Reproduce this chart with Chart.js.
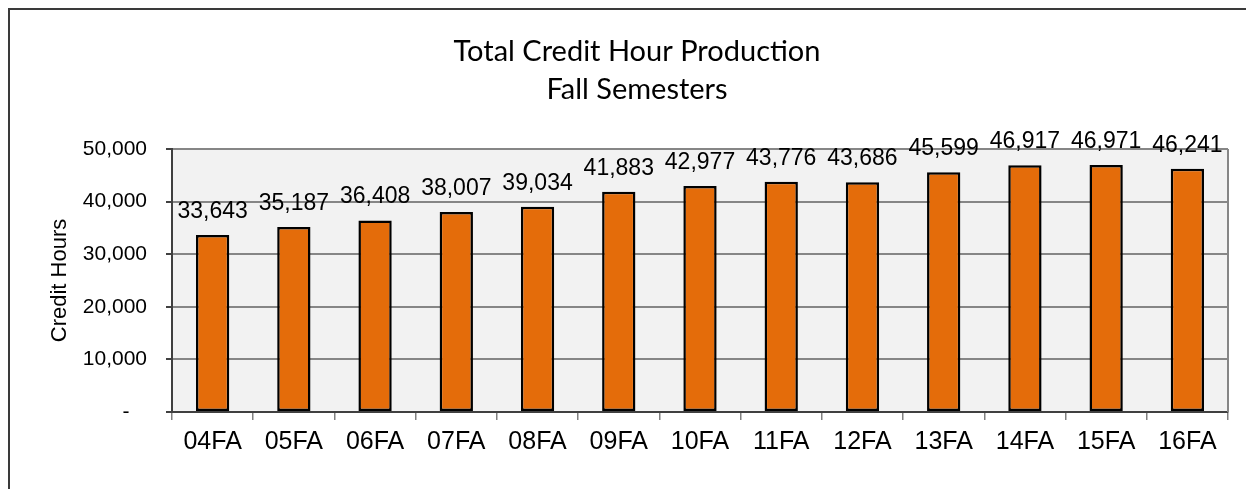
<!DOCTYPE html>
<html>
<head>
<meta charset="utf-8">
<script src="https://cdn.jsdelivr.net/npm/chart.js@4.4.0/dist/chart.umd.min.js"></script>
<style>
    html, body { margin: 0; padding: 0; background: #fff; overflow: hidden; }
    #wrap { position: relative; width: 1246px; height: 489px; }
    #frame { position: absolute; left: 8px; top: 8px; width: 1300px; height: 600px;
             border-left: 2px solid #3a3a3a; border-top: 2px solid #3a3a3a; }
    #chart { position: absolute; left: 0; top: 0; }
</style>
</head>
<body>
<div id="wrap">
    <div id="frame"></div>
    <canvas id="chart" width="1246" height="489"></canvas>
</div>
<script>
const semesters = ['04FA', '05FA', '06FA', '07FA', '08FA', '09FA', '10FA', '11FA', '12FA', '13FA', '14FA', '15FA', '16FA'];
const creditHours = [33643, 35187, 36408, 38007, 39034, 41883, 42977, 43776, 43686, 45599, 46917, 46971, 46241];
const yTicks = [0, 10000, 20000, 30000, 40000, 50000];
const titleLines = ['Total Credit Hour Production', 'Fall Semesters'];

// gray plot background, right border and the two-line title
const plotArea = {
    id: 'plotArea',
    beforeDraw(chart) {
        const { ctx, chartArea: a } = chart;
        ctx.save();
        ctx.fillStyle = '#f2f2f2';
        ctx.fillRect(a.left, a.top, a.right - a.left, a.bottom - a.top);
        ctx.restore();
    },
    afterDraw(chart) {
        const { ctx, chartArea: a } = chart;
        ctx.save();
        ctx.strokeStyle = '#868686';
        ctx.lineWidth = 2;
        ctx.beginPath();
        ctx.moveTo(a.right, a.top);
        ctx.lineTo(a.right, a.bottom);
        ctx.stroke();

        ctx.font = '29px Lato, "Open Sans", sans-serif';
        ctx.fillStyle = '#000';
        ctx.textAlign = 'center';
        ctx.textBaseline = 'middle';
        titleLines.forEach((line, i) => ctx.fillText(line, 637, 52 + i * 38));
        ctx.restore();
    }
};

// value labels above each bar
const barValues = {
    id: 'barValues',
    afterDatasetsDraw(chart) {
        const ctx = chart.ctx;
        const meta = chart.getDatasetMeta(0);
        ctx.save();
        ctx.font = '23px "Liberation Sans", Arial, sans-serif';
        ctx.fillStyle = '#000';
        ctx.textAlign = 'center';
        ctx.textBaseline = 'alphabetic';
        meta.data.forEach((bar, i) => {
            ctx.fillText(creditHours[i].toLocaleString('en-US'), bar.x, bar.y - 17);
        });
        ctx.restore();
    }
};

new Chart(document.getElementById('chart').getContext('2d'), {
    type: 'bar',
    data: {
        labels: semesters,
        datasets: [{
            data: creditHours,
            backgroundColor: '#e46c0a',
            borderColor: '#000',
            borderWidth: 2.5,
            borderSkipped: false,
            barPercentage: 0.41,
            categoryPercentage: 1
        }]
    },
    options: {
        responsive: false,
        animation: false,
        layout: { padding: { left: 0, right: 18, top: 149, bottom: 0 } },
        plugins: {
            legend: { display: false },
            tooltip: { enabled: false },
            title: { display: false }
        },
        scales: {
            x: {
                offset: true,
                grid: {
                    display: true,
                    drawOnChartArea: false,
                    offset: true,
                    tickLength: 8,
                    color: '#808080',
                    lineWidth: 1.5
                },
                border: { display: true, color: '#404040', width: 2 },
                ticks: {
                    color: '#000',
                    padding: 7,
                    maxRotation: 0,
                    font: { family: '"Liberation Sans", Arial, sans-serif', size: 25 }
                },
                afterFit(scale) { scale.height = 77; }
            },
            y: {
                min: 0,
                max: 50000,
                afterBuildTicks(scale) { scale.ticks = yTicks.map(v => ({ value: v })); },
                grid: {
                    color: '#868686',
                    lineWidth: 2,
                    tickLength: 6,
                    tickColor: '#404040'
                },
                border: { display: true, color: '#404040', width: 2 },
                ticks: {
                    color: '#000',
                    padding: 19,
                    font: { family: '"Liberation Sans", Arial, sans-serif', size: 21 },
                    callback: function(value) {
                        return value === 0 ? '-   ' : value.toLocaleString('en-US');
                    }
                },
                title: {
                    display: true,
                    text: 'Credit Hours',
                    color: '#000',
                    font: { family: '"Liberation Sans", Arial, sans-serif', size: 22 },
                    padding: { top: 47, bottom: 0 }
                },
                afterFit(scale) { scale.width = 172; }
            }
        }
    },
    plugins: [plotArea, barValues]
});
</script>
</body>
</html>
